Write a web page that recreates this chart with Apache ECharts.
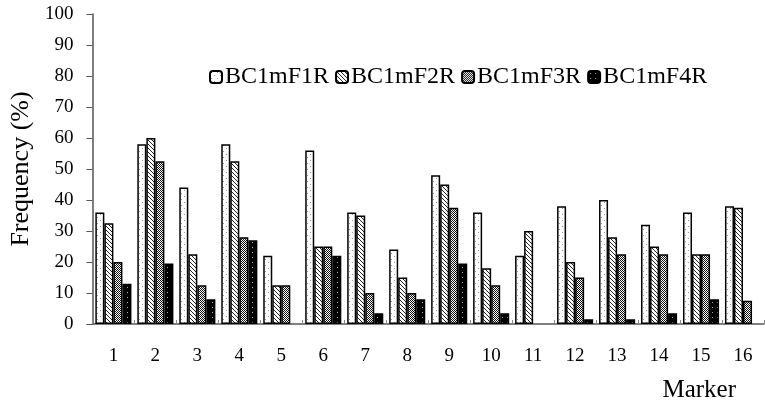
<!DOCTYPE html>
<html>
<head>
<meta charset="utf-8">
<script src="https://cdn.jsdelivr.net/npm/echarts@6/dist/echarts.min.js"></script>
<style>
  html, body { margin: 0; padding: 0; background: #fff; }
  #main { width: 765px; height: 410px; }
</style>
</head>
<body>
<div id="main"></div>
<script>
  const markers = ['1', '2', '3', '4', '5', '6', '7', '8', '9', '10', '11', '12', '13', '14', '15', '16']
  const seriesNames = ['BC1mF1R', 'BC1mF2R', 'BC1mF3R', 'BC1mF4R']
  // '-' = no bar drawn for that marker
  const f1 = [36, 58, 44, 58, 22, 56, 36, 24, 48, 36, 22, 38, 40, 32, 36, 38]
  const f2 = [32.5, 60, 22.5, 52.5, 12.5, 25, 35, 15, 45, 18, 30, 20, 28, 25, 22.5, 37.5]
  const f3 = [20, 52.5, 12.5, 28, 12.5, 25, 10, 10, 37.5, 12.5, '-', 15, 22.5, 22.5, 22.5, 7.5]
  const f4 = [13, 19.5, 8, 27, '-', 22, 3.5, 8, 19.5, 3.5, '-', 1.5, 1.5, 3.5, 8, '-']

  // small canvas fills to mimic the print patterns
  function makePattern(size, draw) {
    let c = document.createElement('canvas')
    c.width = size
    c.height = size
    let ctx = c.getContext('2d')
    draw(ctx, size)
    return { image: c, repeat: 'repeat' }
  }

  const patterns = [
    makePattern(6, function (ctx, s) {
      ctx.fillStyle = '#fff'
      ctx.fillRect(0, 0, s, s)
      ctx.fillStyle = '#999'
      ctx.fillRect(1, 1, 1, 1)
      ctx.fillRect(4, 4, 1, 1)
    }),
    makePattern(4, function (ctx, s) {
      ctx.fillStyle = '#fff'
      ctx.fillRect(0, 0, s, s)
      ctx.fillStyle = '#222'
      for (let i = 0; i < s; i++) {
        ctx.fillRect(i, i, 1, 1)
      }
    }),
    makePattern(2, function (ctx, s) {
      ctx.fillStyle = '#fff'
      ctx.fillRect(0, 0, s, s)
      ctx.fillStyle = '#111'
      ctx.fillRect(0, 0, 1, 1)
      ctx.fillRect(1, 1, 1, 1)
    }),
    makePattern(5, function (ctx, s) {
      ctx.fillStyle = '#000'
      ctx.fillRect(0, 0, s, s)
      ctx.fillStyle = '#aaa'
      ctx.fillRect(2, 2, 1, 1)
    })
  ]

  const values = [f1, f2, f3, f4]
  const font = '"Liberation Serif", "Times New Roman", serif'

  let chart = echarts.init(document.getElementById('main'))
  let option = {
    animation: false,
    backgroundColor: '#fff',
    textStyle: { fontFamily: font },
    grid: { left: 85, right: 1, top: 14, bottom: 86, containLabel: false },
    title: {
      text: 'Marker',
      right: 24,
      bottom: 2,
      textStyle: { fontFamily: font, fontSize: 25, fontWeight: 'normal', color: '#000' }
    },
    legend: {
      data: seriesNames,
      left: 204,
      top: 60,
      itemWidth: 12,
      itemHeight: 12,
      itemGap: 6,
      textStyle: { fontFamily: font, fontSize: 24, color: '#000', padding: [0, 0, 0, -2] }
    },
    xAxis: {
      type: 'category',
      data: markers,
      axisLine: { lineStyle: { color: '#555', width: 1.5 } },
      axisTick: { show: true, inside: true, length: 4, lineStyle: { color: '#888' } },
      axisLabel: { fontFamily: font, fontSize: 19, color: '#000', margin: 23 }
    },
    yAxis: {
      type: 'value',
      min: 0,
      max: 100,
      interval: 10,
      name: 'Frequency (%)',
      nameLocation: 'middle',
      nameGap: 58,
      nameTextStyle: { fontFamily: font, fontSize: 26, color: '#000' },
      axisLine: { show: true, lineStyle: { color: '#555', width: 1.5 } },
      axisTick: { show: true, length: 6, lineStyle: { color: '#555' } },
      axisLabel: { fontFamily: font, fontSize: 19, color: '#000', margin: 19 },
      splitLine: { show: false }
    },
    series: seriesNames.map(function (name, i) {
      return {
        name: name,
        type: 'bar',
        data: values[i],
        barGap: '0%',
        barCategoryGap: '14%',
        itemStyle: {
          color: patterns[i],
          borderColor: '#000',
          borderWidth: 1.5
        }
      }
    })
  }
  chart.setOption(option)
</script>
</body>
</html>
